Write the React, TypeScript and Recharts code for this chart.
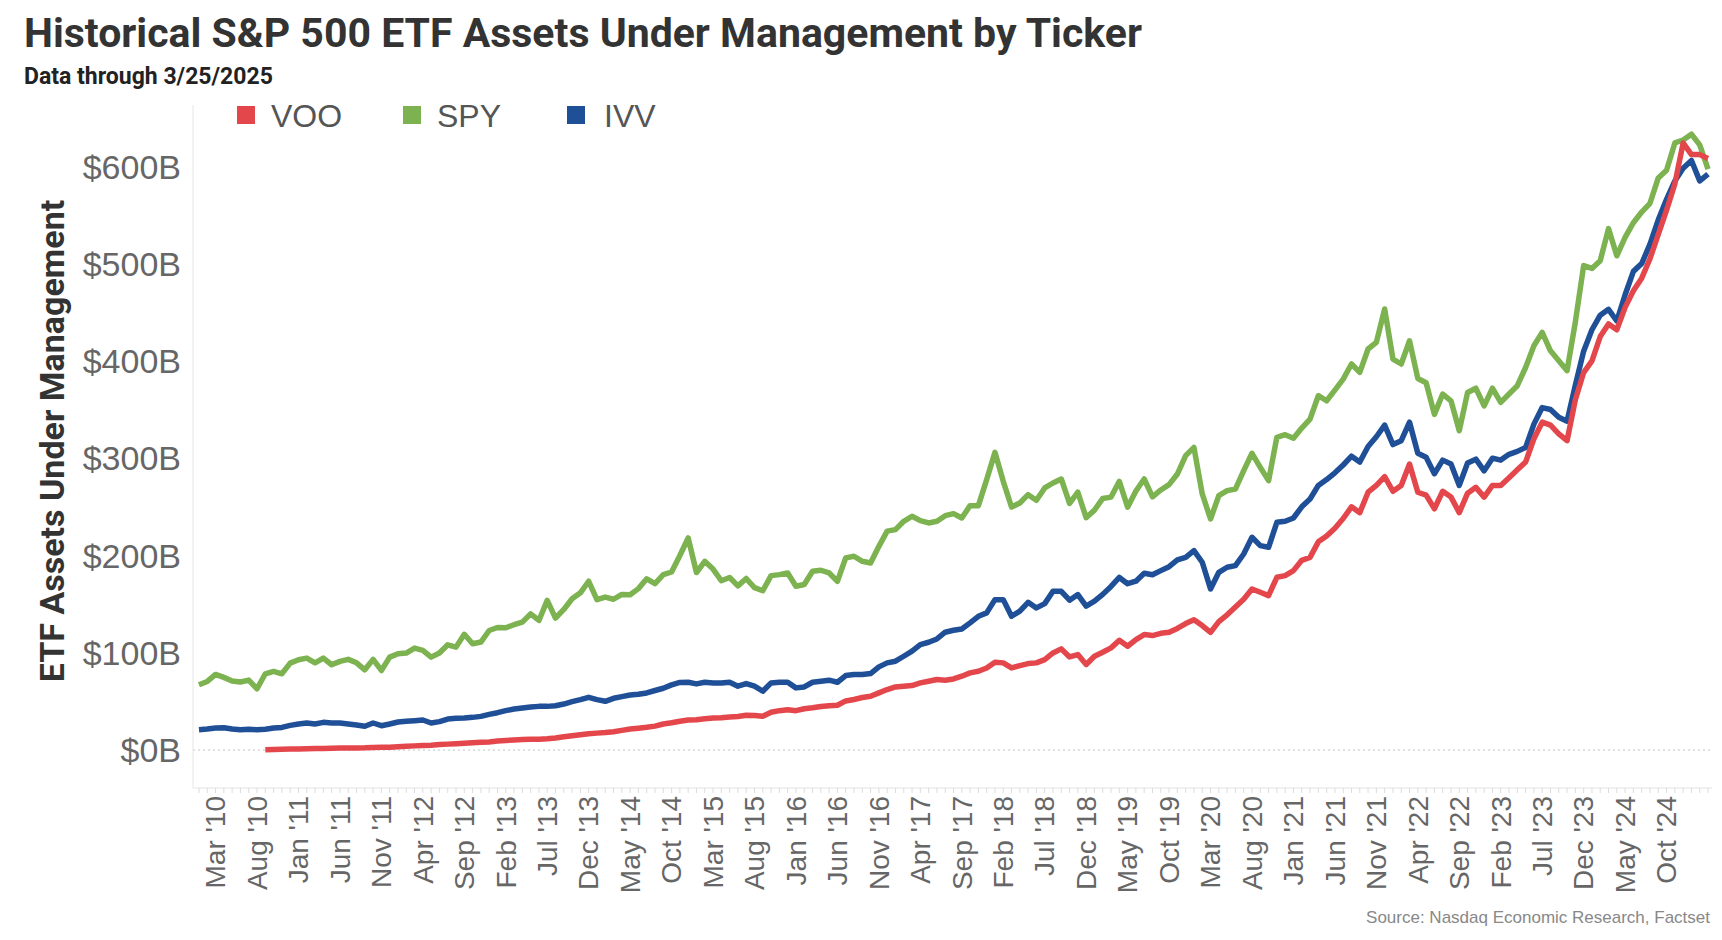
import { LineChart, Line, XAxis, YAxis, ReferenceLine } from "recharts";

const W = 1722;
const H = 940;

// monthly AUM in $B, Jan 2010 .. Mar 2025
const spy = [
  67.1, 70.5, 77.7, 74.7, 70.9, 69.9, 71.9, 63.0, 78.4, 80.8,
  78.4, 89.4, 92.8, 94.5, 89.7, 94.5, 87.7, 91.1, 93.2, 89.7,
  82.5, 93.2, 81.8, 95.5, 99.0, 99.7, 104.8, 102.4, 95.5, 99.7,
  108.2, 105.8, 119.0, 109.2, 111.0, 122.9, 126.0, 125.7, 128.8, 131.5,
  140.0, 133.2, 153.8, 135.6, 144.5, 155.5, 161.6, 173.5, 154.5, 157.2,
  155.0, 160.0, 159.7, 165.9, 176.0, 171.0, 180.2, 183.0, 200.0, 218.0,
  182.5, 194.0, 186.0, 174.0, 177.3, 168.8, 176.3, 167.0, 163.7, 179.3,
  180.3, 182.0, 168.3, 170.1, 183.8, 184.8, 182.0, 173.5, 197.5, 199.2,
  194.0, 192.3, 209.4, 225.0, 226.6, 235.1, 240.3, 235.8, 233.4, 235.1,
  240.9, 243.0, 238.5, 251.2, 251.2, 277.9, 306.0, 276.2, 249.8, 254.0,
  262.5, 256.7, 269.4, 274.5, 278.6, 253.5, 265.0, 238.8, 246.6, 258.6,
  260.0, 276.2, 249.6, 266.3, 278.6, 260.3, 267.3, 272.8, 283.7, 302.6,
  311.1, 263.2, 237.5, 261.5, 266.6, 268.3, 287.2, 305.0, 290.6, 276.9,
  321.4, 324.1, 320.5, 331.0, 340.2, 364.2, 359.0, 370.0, 381.3, 396.8,
  388.2, 412.2, 419.0, 453.3, 401.9, 396.8, 420.7, 381.9, 377.5, 345.0,
  365.9, 359.0, 328.2, 367.5, 371.9, 353.7, 371.9, 357.4, 365.9, 374.5,
  393.2, 415.5, 429.3, 410.3, 400.1, 390.0, 440.0, 498.0, 495.0, 503.0,
  536.0, 508.0, 527.0, 542.0, 553.0, 562.0, 588.0, 596.0, 624.0, 627.0,
  633.0, 622.0, 597.0,
];

const ivv = [
  20.9, 21.6, 22.6, 23.0, 21.6, 20.9, 21.3, 20.9, 21.3, 22.6,
  23.3, 25.4, 26.8, 27.8, 26.8, 28.5, 27.8, 27.8, 26.8, 25.7,
  24.4, 27.8, 25.0, 26.8, 28.8, 29.5, 30.2, 30.9, 27.8, 29.2,
  31.9, 32.6, 32.9, 33.6, 34.6, 36.7, 38.4, 40.5, 42.2, 43.2,
  44.2, 44.9, 44.9, 45.6, 47.3, 49.7, 51.8, 54.2, 51.8, 50.1,
  53.2, 54.9, 56.6, 57.3, 58.7, 61.2, 63.5, 67.0, 69.5, 69.7,
  68.0, 69.7, 69.0, 69.0, 69.7, 65.6, 68.3, 65.6, 60.5, 69.0,
  69.7, 69.7, 63.9, 64.9, 69.7, 70.7, 71.8, 69.7, 76.6, 77.6,
  77.6, 78.6, 85.5, 89.6, 91.3, 96.4, 101.6, 108.4, 110.8, 114.2,
  121.1, 123.1, 124.5, 130.7, 137.5, 141.0, 154.6, 154.6, 137.5, 142.7,
  151.9, 146.1, 150.5, 163.2, 163.2, 154.0, 159.8, 148.0, 153.0, 160.0,
  168.2, 177.4, 171.0, 173.6, 181.8, 180.2, 184.4, 188.5, 195.4, 198.1,
  205.0, 193.0, 165.6, 182.7, 187.9, 189.6, 201.5, 218.7, 210.1, 208.4,
  234.1, 235.1, 238.5, 250.0, 258.0, 272.0, 278.0, 285.0, 293.0, 302.0,
  296.0, 312.0, 322.0, 334.0, 314.0, 318.0, 337.0, 305.0, 301.0, 284.0,
  298.0, 294.0, 272.0, 295.0, 299.0, 287.0, 300.0, 298.0, 304.0, 307.0,
  311.0, 335.0, 352.0, 350.0, 342.0, 338.0, 375.0, 410.0, 432.0, 447.0,
  453.0, 441.0, 468.0, 492.0, 500.0, 520.0, 545.0, 566.0, 585.0, 598.0,
  606.0, 585.0, 592.0,
];

// VOO launched Sep 2010
const voo = [
  null, null, null, null, null, null, null, null, 0.3, 0.6,
  0.8, 1.0, 1.2, 1.4, 1.5, 1.7, 1.8, 2.0, 2.1, 2.2,
  2.3, 2.6, 2.8, 3.0, 3.5, 3.9, 4.3, 4.8, 5.0, 5.6,
  6.1, 6.6, 7.0, 7.5, 7.9, 8.3, 9.2, 9.8, 10.4, 10.8,
  11.0, 11.2, 11.6, 12.4, 13.6, 14.8, 15.8, 16.8, 17.4, 18.0,
  18.8, 20.2, 21.6, 22.5, 23.4, 24.6, 26.8, 28.0, 29.6, 30.8,
  31.2, 32.2, 33.0, 33.2, 34.0, 34.5, 35.8, 35.5, 34.8, 38.8,
  40.5, 41.5, 40.5, 42.4, 43.5, 44.8, 45.6, 46.0, 50.5, 52.0,
  54.0, 55.3, 58.8, 62.2, 64.9, 65.6, 66.3, 69.0, 70.7, 72.5,
  71.8, 73.1, 75.9, 79.3, 81.0, 84.4, 90.3, 89.6, 84.4, 86.8,
  88.9, 89.6, 93.0, 99.8, 104.0, 95.7, 98.1, 87.9, 96.4, 100.5,
  105.0, 112.8, 106.7, 113.5, 118.7, 117.7, 120.0, 121.0, 125.0, 130.0,
  134.0, 128.0, 121.0, 132.0, 139.0, 147.0, 155.0, 165.6, 162.2, 158.7,
  177.6, 179.3, 184.4, 195.0, 198.0, 214.0, 220.0, 228.0, 238.0, 250.0,
  244.0, 265.0, 272.0, 281.0, 266.0, 272.0, 294.0, 265.0, 262.0, 248.0,
  266.0, 260.0, 244.0, 264.0, 270.0, 260.0, 272.0, 272.0, 280.0, 288.0,
  296.0, 320.0, 337.0, 334.0, 325.0, 318.0, 360.0, 388.0, 400.0, 425.0,
  438.0, 432.0, 455.0, 472.0, 485.0, 505.0, 530.0, 555.0, 582.0, 624.0,
  612.0, 612.0, 608.0,
];

// one label every 5 months, starting Mar '10 (index 2)
const tickLabels = [
  "Mar '10", "Aug '10", "Jan '11", "Jun '11", "Nov '11", "Apr '12",
  "Sep '12", "Feb '13", "Jul '13", "Dec '13", "May '14", "Oct '14",
  "Mar '15", "Aug '15", "Jan '16", "Jun '16", "Nov '16", "Apr '17",
  "Sep '17", "Feb '18", "Jul '18", "Dec '18", "May '19", "Oct '19",
  "Mar '20", "Aug '20", "Jan '21", "Jun '21", "Nov '21", "Apr '22",
  "Sep '22", "Feb '23", "Jul '23", "Dec '23", "May '24", "Oct '24",
];

const yTicks = [0, 100, 200, 300, 400, 500, 600];

const RED = "#e4474b";
const GREEN = "#7cb24f";
const BLUE = "#1f4f97";

const data = spy.map((v, i) => ({ i, spy: v, ivv: ivv[i], voo: voo[i] }));
const monthTicks = data.map((d) => d.i);

const axisFont = "'Liberation Sans', Arial, sans-serif";
const titleFont = "Roboto, 'Noto Sans', sans-serif";

function MonthTick(props: any) {
  const { x, payload } = props;
  const k = (payload.value - 2) / 5;
  if (!Number.isInteger(k) || k < 0 || k >= tickLabels.length) return null;
  const y = 796;
  return (
    <text
      x={x}
      y={y}
      transform={`rotate(-90 ${x} ${y})`}
      textAnchor="end"
      dy="0.35em"
      fontSize={28}
      fontFamily={axisFont}
      fill="#666"
    >
      {tickLabels[k]}
    </text>
  );
}

function ValueTick(props: any) {
  const { y, payload } = props;
  return (
    <text
      x={181}
      y={y}
      textAnchor="end"
      dy="0.36em"
      fontSize={34}
      fontFamily={axisFont}
      fill="#666"
    >
      {`$${payload.value}B`}
    </text>
  );
}

const legend = [
  { name: "VOO", color: RED, box: 237, text: 271 },
  { name: "SPY", color: GREEN, box: 403, text: 437 },
  { name: "IVV", color: BLUE, box: 567, text: 604 },
];

export default function App() {
  return (
    <div style={{ position: "relative", width: W, height: H, background: "#fff", overflow: "hidden" }}>
      <style>{"body{margin:0}"}</style>
      <LineChart
        width={W}
        height={H}
        data={data}
        margin={{ top: 105, right: 10, left: 133, bottom: 122 }}
      >
        <XAxis
          type="number"
          dataKey="i"
          domain={[-0.72, 182.48]}
          allowDataOverflow
          ticks={monthTicks}
          interval={0}
          height={30}
          tickSize={5}
          tickLine={{ stroke: "#dcdcdc" }}
          axisLine={{ stroke: "#e4e4e4" }}
          tick={MonthTick}
        />
        <YAxis
          type="number"
          domain={[-39, 663]}
          allowDataOverflow
          ticks={yTicks}
          interval={0}
          width={60}
          tickLine={false}
          axisLine={{ stroke: "#e6e6e6" }}
          tick={ValueTick}
        />
        <ReferenceLine y={0} stroke="#c4c4c4" strokeDasharray="2 3" />
        <Line type="linear" dataKey="spy" stroke={GREEN} strokeWidth={5.5} dot={false} isAnimationActive={false} strokeLinejoin="round" />
        <Line type="linear" dataKey="ivv" stroke={BLUE} strokeWidth={5.5} dot={false} isAnimationActive={false} strokeLinejoin="round" />
        <Line type="linear" dataKey="voo" stroke={RED} strokeWidth={5.5} dot={false} isAnimationActive={false} strokeLinejoin="round" />
      </LineChart>

      <div style={{ position: "absolute", left: 24, top: 13, fontFamily: titleFont, fontWeight: 700, fontSize: 41, lineHeight: 1, color: "#333", whiteSpace: "nowrap" }}>
        Historical S&amp;P 500 ETF Assets Under Management by Ticker
      </div>
      <div style={{ position: "absolute", left: 24, top: 65, fontFamily: titleFont, fontWeight: 700, fontSize: 23, lineHeight: 1, color: "#222", whiteSpace: "nowrap" }}>
        Data through 3/25/2025
      </div>

      {legend.map((l) => (
        <div key={l.name}>
          <div style={{ position: "absolute", left: l.box, top: 106, width: 18, height: 18, background: l.color }} />
          <div style={{ position: "absolute", left: l.text, top: 100, fontFamily: axisFont, fontSize: 32, lineHeight: 1, color: "#555" }}>
            {l.name}
          </div>
        </div>
      ))}

      <div
        style={{
          position: "absolute",
          left: 52,
          top: 441,
          transform: "translate(-50%, -50%) rotate(-90deg)",
          fontFamily: titleFont,
          fontWeight: 700,
          fontSize: 34,
          lineHeight: 1,
          color: "#333",
          whiteSpace: "nowrap",
        }}
      >
        ETF Assets Under Management
      </div>

      <div style={{ position: "absolute", right: 12, top: 909, fontFamily: axisFont, fontSize: 17, lineHeight: 1, color: "#888", whiteSpace: "nowrap" }}>
        Source: Nasdaq Economic Research, Factset
      </div>
    </div>
  );
}
